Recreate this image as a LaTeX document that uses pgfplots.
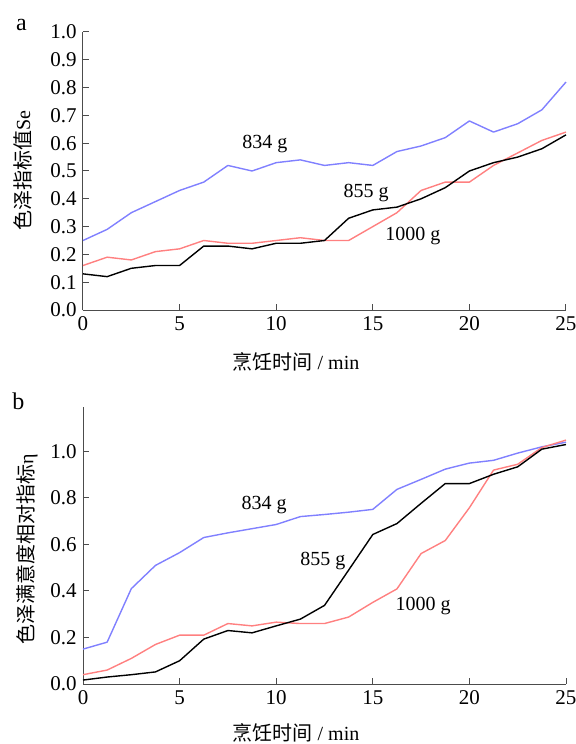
\documentclass[border=0pt]{standalone}
\usepackage{pgfplots}
\usepackage{pgfplotstable}
\pgfplotsset{compat=1.18}
\usepackage{fontspec}
\setmainfont{Liberation Serif}
\newfontfamily\cjk{Noto Sans CJK SC}

\definecolor{cblue}{RGB}{128,128,255}
\definecolor{cred}{RGB}{255,128,128}

% panel a: colour index Se
\pgfplotstableread{
t     g834  g855  g1000
0     0.25  0.13  0.16
1.25  0.29  0.12  0.19
2.5   0.35  0.15  0.18
3.75  0.39  0.16  0.21
5     0.43  0.16  0.22
6.25  0.46  0.23  0.25
7.5   0.52  0.23  0.24
8.75  0.50  0.22  0.24
10    0.53  0.24  0.25
11.25 0.54  0.24  0.26
12.5  0.52  0.25  0.25
13.75 0.53  0.33  0.25
15    0.52  0.36  0.30
16.25 0.57  0.37  0.35
17.5  0.59  0.40  0.43
18.75 0.62  0.44  0.46
20    0.68  0.50  0.46
21.25 0.64  0.53  0.52
22.5  0.67  0.55  0.565
23.75 0.72  0.58  0.61
25    0.82  0.63  0.64
}\tabSe

% panel b: relative index eta
\pgfplotstableread{
t     g834  g855  g1000
0     0.15  0.017 0.04
1.25  0.18  0.03  0.06
2.5   0.41  0.04  0.11
3.75  0.51  0.052 0.17
5     0.565 0.10  0.21
6.25  0.63  0.193 0.21
7.5   0.65  0.23  0.26
8.75  0.668 0.22  0.25
10    0.686 0.25  0.266
11.25 0.72  0.279 0.26
12.5  0.729 0.338 0.26
13.75 0.739 0.49  0.288
15    0.751 0.643 0.351
16.25 0.837 0.69  0.409
17.5  0.88  0.777 0.561
18.75 0.924 0.862 0.617
20    0.95  0.862 0.758
21.25 0.962 0.902 0.92
22.5  0.993 0.934 0.945
23.75 1.02  1.01  1.017
25    1.04  1.03  1.049
}\tabEta

\pgfplotsset{
  panel/.style={
    scale only axis,
    width=241.5pt,
    xmin=0, xmax=25,
    ymin=0,
    xtick={0,5,...,25},
    axis x line=bottom,
    axis y line=left,
    axis line style={-, draw=black!70, line width=0.5pt},
    tick style={draw=black!70, line width=0.5pt},
    tick align=inside,
    major tick length=3pt,
    font=\fontsize{10}{12}\selectfont,
    tick label style={font=\fontsize{10.5}{12}\selectfont},
    /pgf/number format/assume math mode=true,
    xticklabel style={inner sep=0pt, yshift=-3pt},
    yticklabel style={inner sep=0pt, xshift=-3pt,
      /pgf/number format/.cd, fixed, fixed zerofill, precision=1},
    every axis plot/.append style={line width=0.7pt, mark=none, line join=round},
    clip=false,
  }
}

\begin{document}
\begin{tikzpicture}
\path[use as bounding box] (-41.5pt,-217pt) rectangle (246.5pt,155pt);

% ---------- a ----------
\begin{axis}[panel,
    at={(0pt,0pt)}, anchor=south west,
    height=139pt, ymax=1,
    ytick={0,0.1,...,1.0}]
  \addplot[cblue] table[x=t, y=g834] {\tabSe};
  \addplot[cred]  table[x=t, y=g1000] {\tabSe};
  \addplot[black] table[x=t, y=g855] {\tabSe};
  \node at (axis cs:9.42,0.597) {834 g};
  \node at (axis cs:14.65,0.42) {855 g};
  \node at (axis cs:17.08,0.266) {1000 g};
  \node at (axis description cs:0.441,0) [yshift=-25.8pt] {{\cjk 烹饪时间} / min};
  \node at (axis description cs:0,0.5) [xshift=-30.25pt, rotate=90] {{\cjk 色泽指标值}Se};
  \node at (axis description cs:0,0) [xshift=-30.75pt, yshift=142.5pt, font=\fontsize{12}{14}\selectfont] {a};
\end{axis}

% ---------- b ----------
\begin{axis}[panel,
    at={(0pt,-187pt)}, anchor=south west,
    height=138.35pt, ymax=1.19,
    ytick={0,0.2,...,1.0}]
  \addplot[cblue] table[x=t, y=g834] {\tabEta};
  \addplot[cred]  table[x=t, y=g1000] {\tabEta};
  \addplot[black] table[x=t, y=g855] {\tabEta};
  \node at (axis cs:9.37,0.768) {834 g};
  \node at (axis cs:12.42,0.531) {855 g};
  \node at (axis cs:17.6,0.337) {1000 g};
  \node at (axis description cs:0.441,0) [yshift=-24.5pt] {{\cjk 烹饪时间} / min};
  \node at (axis description cs:0,0.486) [xshift=-28pt, rotate=90] {{\cjk 色泽满意度相对指标}η};
  \node at (axis description cs:0,0) [xshift=-32.25pt, yshift=141.5pt, font=\fontsize{12}{14}\selectfont] {b};
\end{axis}
\end{tikzpicture}
\end{document}
